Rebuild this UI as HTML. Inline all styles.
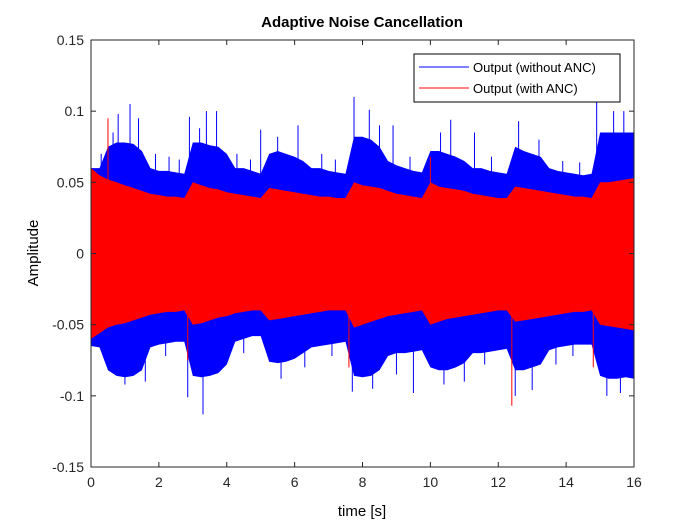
<!DOCTYPE html>
<html><head><meta charset="utf-8"><style>
body{margin:0;background:#fff;}
svg text{font-family:"Liberation Sans",Arial,sans-serif;}
</style></head><body>
<svg id="chart" width="700" height="525">
<rect x="0" y="0" width="700" height="525" fill="#fff"/>
<text x="362" y="27" font-size="15" font-weight="bold" text-anchor="middle">Adaptive Noise Cancellation</text>
<g id="plot"></g>
<g id="axes"></g>
<text x="362" y="516" font-size="15" text-anchor="middle">time [s]</text>
<text transform="translate(38,253) rotate(-90)" font-size="15" text-anchor="middle">Amplitude</text>
<g>
<rect x="414" y="54" width="206" height="48" fill="#fff" stroke="#000" stroke-width="1"/>
<line x1="419" y1="67" x2="469" y2="67" stroke="#0000ff" stroke-width="1"/>
<text x="473" y="72" font-size="13">Output (without ANC)</text>
<line x1="419" y1="88" x2="469" y2="88" stroke="#ff0000" stroke-width="1"/>
<text x="473" y="93" font-size="13">Output (with ANC)</text>
</g>
</svg>
<script>
const times = [0,0.25,0.5,0.75,1,1.25,1.5,1.75,2,2.25,2.5,2.75,3,3.25,3.5,3.75,4,4.25,4.5,4.75,5,5.25,5.5,5.75,6,6.25,6.5,6.75,7,7.25,7.5,7.75,8,8.25,8.5,8.75,9,9.25,9.5,9.75,10,10.25,10.5,10.75,11,11.25,11.5,11.75,12,12.25,12.5,12.75,13,13.25,13.5,13.75,14,14.25,14.5,14.75,15,15.25,15.5,15.75,16];
const blueUpper = [0.06,0.06,0.075,0.078,0.078,0.077,0.072,0.06,0.058,0.058,0.057,0.056,0.078,0.078,0.076,0.075,0.07,0.06,0.06,0.058,0.056,0.07,0.072,0.07,0.068,0.065,0.06,0.06,0.058,0.057,0.056,0.082,0.082,0.08,0.075,0.065,0.062,0.06,0.058,0.057,0.072,0.072,0.07,0.068,0.065,0.06,0.06,0.058,0.057,0.056,0.075,0.072,0.07,0.068,0.06,0.058,0.057,0.056,0.055,0.056,0.085,0.085,0.085,0.085,0.085];
const blueLower = [-0.065,-0.066,-0.082,-0.086,-0.087,-0.086,-0.082,-0.066,-0.064,-0.063,-0.062,-0.062,-0.086,-0.087,-0.086,-0.084,-0.078,-0.062,-0.06,-0.058,-0.058,-0.076,-0.077,-0.076,-0.074,-0.07,-0.066,-0.065,-0.064,-0.063,-0.062,-0.086,-0.087,-0.086,-0.082,-0.072,-0.07,-0.07,-0.069,-0.068,-0.08,-0.082,-0.082,-0.08,-0.077,-0.07,-0.07,-0.069,-0.068,-0.067,-0.082,-0.082,-0.08,-0.078,-0.068,-0.066,-0.065,-0.064,-0.064,-0.064,-0.086,-0.088,-0.088,-0.087,-0.088];
const redUpper = [0.06,0.055,0.052,0.05,0.048,0.046,0.044,0.042,0.041,0.04,0.04,0.039,0.05,0.048,0.046,0.045,0.043,0.042,0.041,0.04,0.039,0.046,0.045,0.044,0.043,0.042,0.041,0.04,0.04,0.039,0.039,0.05,0.048,0.047,0.046,0.044,0.042,0.041,0.04,0.039,0.05,0.047,0.046,0.045,0.044,0.042,0.041,0.04,0.039,0.039,0.047,0.046,0.045,0.044,0.043,0.042,0.041,0.04,0.04,0.039,0.05,0.05,0.051,0.052,0.053];
const redLower = [-0.06,-0.056,-0.052,-0.05,-0.049,-0.047,-0.045,-0.043,-0.042,-0.041,-0.041,-0.04,-0.05,-0.049,-0.047,-0.045,-0.044,-0.042,-0.041,-0.04,-0.04,-0.047,-0.046,-0.045,-0.044,-0.043,-0.042,-0.041,-0.04,-0.04,-0.04,-0.052,-0.05,-0.048,-0.046,-0.044,-0.043,-0.042,-0.041,-0.04,-0.05,-0.048,-0.046,-0.045,-0.044,-0.043,-0.042,-0.041,-0.04,-0.04,-0.048,-0.047,-0.046,-0.045,-0.044,-0.043,-0.042,-0.041,-0.041,-0.04,-0.05,-0.051,-0.052,-0.053,-0.054];
const blueSpikeT = [0.3,0.65,0.8,1.15,1.4,1.9,2.3,2.6,2.9,3.2,3.4,3.7,4.3,4.7,5.0,5.5,6.1,6.8,7.2,7.75,8.2,8.5,8.9,9.4,10.3,10.6,11.3,11.8,12.6,13.2,13.9,14.4,14.9,15.4,15.7,0.4,1.0,1.6,2.2,2.85,3.3,4.5,5.6,6.3,7.1,7.7,8.3,9.0,9.5,10.4,11.0,11.6,12.5,13.0,13.7,14.2,15.2,15.6,16.0];
const blueSpikeV = [0.07,0.085,0.098,0.105,0.095,0.07,0.068,0.066,0.096,0.088,0.1,0.1,0.07,0.066,0.087,0.082,0.09,0.07,0.066,0.11,0.101,0.09,0.09,0.068,0.085,0.094,0.085,0.068,0.093,0.08,0.065,0.064,0.112,0.1,0.1,-0.075,-0.092,-0.09,-0.072,-0.101,-0.113,-0.07,-0.088,-0.08,-0.072,-0.097,-0.095,-0.085,-0.098,-0.092,-0.09,-0.078,-0.1,-0.096,-0.078,-0.072,-0.1,-0.098,-0.103];
const redSpikeT = [0.5,2.85,7.6,10.0,12.4,14.8];
const redSpikeV = [0.095,-0.075,-0.08,0.068,-0.107,-0.08];
const xTicks = [0,2,4,6,8,10,12,14,16];
const yTicks = [-0.15,-0.1,-0.05,0,0.05,0.1,0.15];
const yTickLabels = ["-0.15","-0.1","-0.05","0","0.05","0.1","0.15"];

const L=91,R=634,T=40,B=467;
const xs=t=>L+(t-0)/(16-0)*(R-L);
const ys=v=>B-(v+0.15)/0.3*(B-T);
const NS="http://www.w3.org/2000/svg";
const plot=document.getElementById('plot');
const axes=document.getElementById('axes');
function band(up,lo,color,name){
  let pts=times.map((t,i)=>xs(t).toFixed(1)+','+ys(up[i]).toFixed(1));
  for(let i=times.length-1;i>=0;i--) pts.push(xs(times[i]).toFixed(1)+','+ys(lo[i]).toFixed(1));
  const p=document.createElementNS(NS,'polygon');
  p.setAttribute('points',pts.join(' '));
  p.setAttribute('fill',color);
  
  
  plot.appendChild(p);
}
function spikes(T2,V,color,name){
  T2.forEach((t,i)=>{
    const l=document.createElementNS(NS,'line');
    l.setAttribute('x1',xs(t));l.setAttribute('x2',xs(t));
    l.setAttribute('y1',ys(0));l.setAttribute('y2',ys(V[i]));
    l.setAttribute('stroke',color);l.setAttribute('stroke-width','1');
    
    
    plot.appendChild(l);
  });
}
band(blueUpper,blueLower,'#0000ff','series-without-anc');
spikes(blueSpikeT,blueSpikeV,'#0000ff','spike-without-anc');
band(redUpper,redLower,'#ff0000','series-with-anc');
spikes(redSpikeT,redSpikeV,'#ff0000','spike-with-anc');

const box=document.createElementNS(NS,'rect');
box.setAttribute('x',L);box.setAttribute('y',T);box.setAttribute('width',R-L);box.setAttribute('height',B-T);
box.setAttribute('fill','none');box.setAttribute('stroke','#262626');


axes.appendChild(box);
xTicks.forEach(t=>{
  [[B,B-5],[T,T+5]].forEach(([a,b])=>{
    const l=document.createElementNS(NS,'line');
    l.setAttribute('x1',xs(t));l.setAttribute('x2',xs(t));l.setAttribute('y1',a);l.setAttribute('y2',b);
    l.setAttribute('stroke','#262626');
    
    
    axes.appendChild(l);
  });
  const tx=document.createElementNS(NS,'text');
  tx.setAttribute('x',xs(t));tx.setAttribute('y',B+20);tx.setAttribute('font-size','14');
  tx.setAttribute('text-anchor','middle');tx.setAttribute('fill','#262626');
  tx.textContent=t;
  
  
  axes.appendChild(tx);
});
yTicks.forEach((v,i)=>{
  [[L,L+5],[R,R-5]].forEach(([a,b])=>{
    const l=document.createElementNS(NS,'line');
    l.setAttribute('x1',a);l.setAttribute('x2',b);l.setAttribute('y1',ys(v));l.setAttribute('y2',ys(v));
    l.setAttribute('stroke','#262626');
    
    
    axes.appendChild(l);
  });
  const tx=document.createElementNS(NS,'text');
  tx.setAttribute('x',L-7);tx.setAttribute('y',ys(v)+5);tx.setAttribute('font-size','14');
  tx.setAttribute('text-anchor','end');tx.setAttribute('fill','#262626');
  tx.textContent=yTickLabels[i];
  
  
  axes.appendChild(tx);
});
</script>
</body></html>
